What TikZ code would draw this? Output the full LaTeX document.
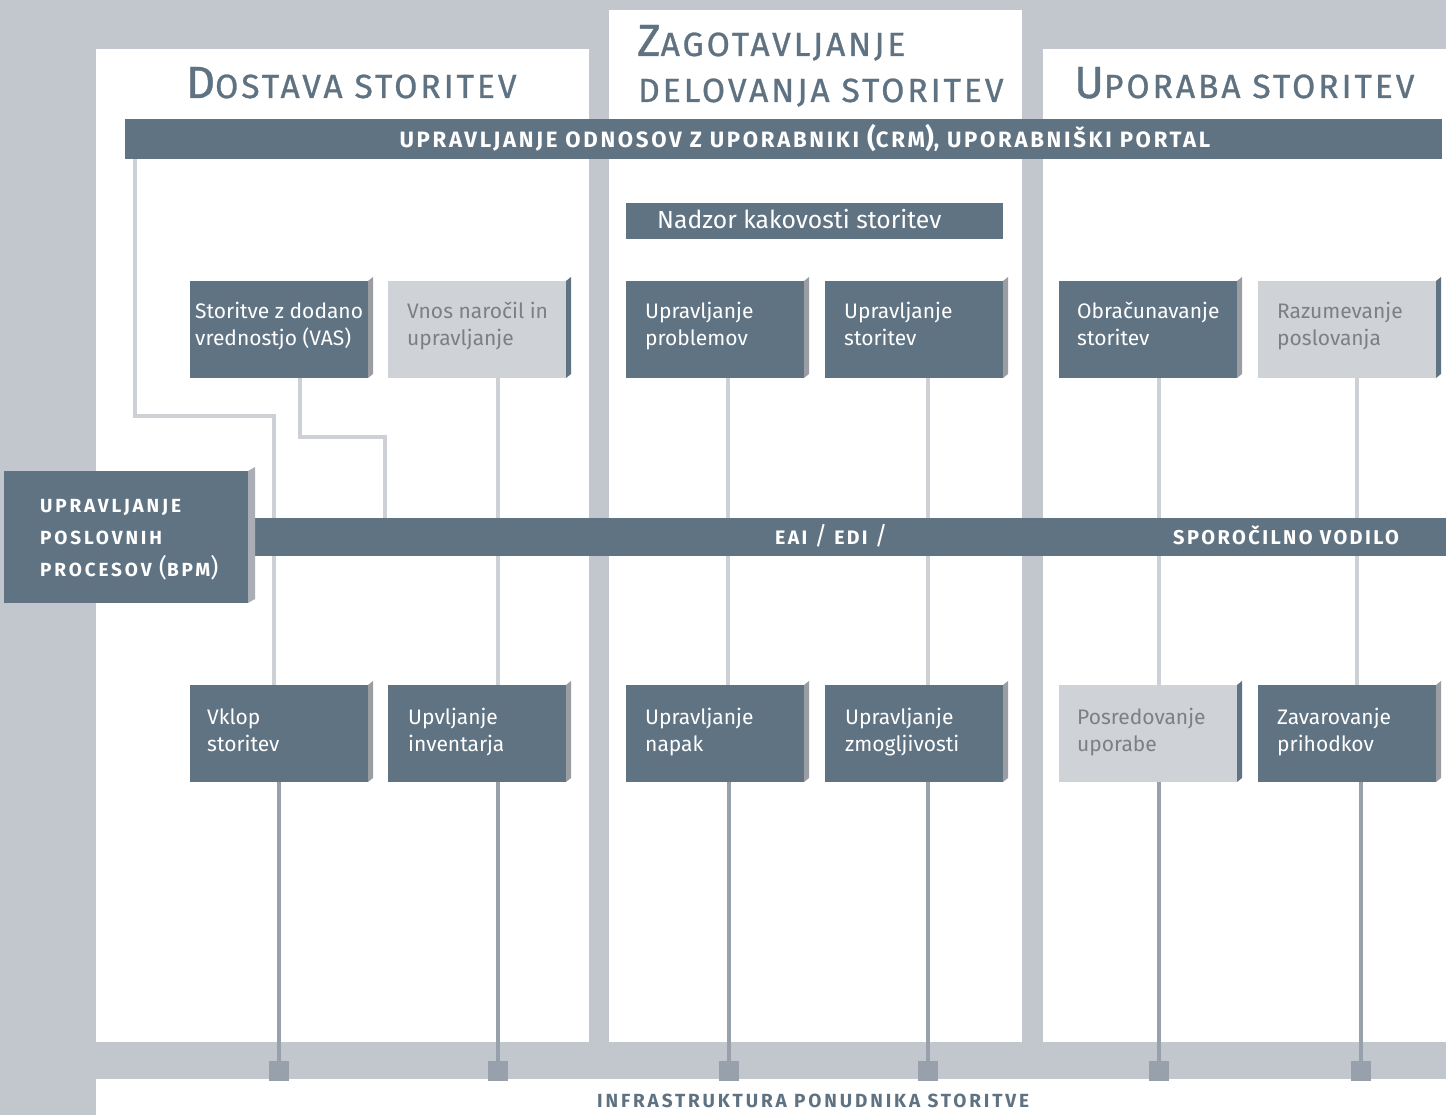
\documentclass[tikz,border=0pt]{standalone}
\usepackage{fontspec}
\setmainfont{Fira Sans}
\newfontfamily\headfont[FakeBold=0.9, LetterSpace=9]{Fira Sans}
\usetikzlibrary{calc}
\definecolor{bggray}{HTML}{C2C7CE}
\definecolor{slate}{HTML}{607383}
\definecolor{boxdk}{HTML}{607383}
\definecolor{boxlt}{HTML}{CFD2D6}
\definecolor{shdk}{HTML}{9A9DA2}
\definecolor{shlt}{HTML}{607383}
\definecolor{txtdk}{HTML}{FFFFFF}
\definecolor{txtlt}{HTML}{7C8085}
\definecolor{connlt}{HTML}{CDD0D4}
\definecolor{conndk}{HTML}{97A0AB}
\definecolor{bpmsh}{HTML}{A9AEB5}
\definecolor{headc}{HTML}{5F7282}
\tikzset{
  boxshape/.style={minimum width=178pt, minimum height=97pt, inner sep=0pt, outer sep=0pt, draw=none},
  boxtext/.style={font=\fontsize{21}{27}\selectfont, align=left, inner sep=0pt},
  conn/.style={draw=connlt, line width=4.5pt},
  lconn/.style={draw=conndk, line width=3.5pt},
  sqnode/.style={fill=conndk, minimum size=20pt, inner sep=0pt, outer sep=0pt},
  heading/.style={text=headc, inner sep=0pt, font=\headfont},
  bartext/.style={text=white, inner sep=0pt, font=\fontsize{#1}{#1}\selectfont\bfseries\addfontfeatures{LetterSpace=12}},
  bpmtext/.style={text=white, inner sep=0pt, align=left, font=\fontsize{19}{32}\selectfont\bfseries\addfontfeatures{LetterSpace=15}},
  barfill/.style={fill=slate, inner sep=0pt, outer sep=0pt}
}
\newcommand\svcbox[7]{%
  \fill[sh#4] (#2+178,#3) -- (#2+183,#3-4) -- (#2+183,#3+93) -- (#2+178,#3+97) -- cycle;
  \node[boxshape, fill=box#4, anchor=north west] (#1) at (#2,#3) {};
  \node[boxtext, text=txt#4, anchor=base west] (#1t) at (#2+#5,#3+#6) {#7};
}
\newcommand\hcap[2]{{\fontsize{45}{45}\selectfont #1}{\fontsize{33.5}{33.5}\selectfont #2}}
\newcommand\hsc[1]{{\fontsize{33.5}{33.5}\selectfont #1}}
\newcommand\bigpar[2][25]{{\fontsize{#1}{#1}\selectfont #2}}
\begin{document}
\begin{tikzpicture}[x=1pt,y=-1pt]
\useasboundingbox (0,0) rectangle (1446,1115);
% background and panels
\fill[bggray] (0,0) rectangle (1446,1115);
\fill[white] (96,49) rectangle (589,1042);
\fill[white] (609,10) rectangle (1022,1042);
\fill[white] (1043,49) rectangle (1446,1042);
\fill[white] (96,1079) rectangle (1446,1115);

% headings
\node[heading, anchor=base west] (h1) at (186,98) {\hcap{D}{OSTAVA STORITEV}};
\node[heading, anchor=base west] (h2a) at (637,56) {\hcap{Z}{AGOTAVLJANJE}};
\node[heading, anchor=base west] (h2b) at (638,102) {\hsc{DELOVANJA STORITEV}};
\node[heading, anchor=base west] (h3) at (1074,98) {\hcap{U}{PORABA STORITEV}};

% CRM bar
\node[barfill, minimum width=1317pt, minimum height=40pt, anchor=north west] (crm) at (125,119) {};
\node[bartext=22.2, anchor=base] (crmt) at (805,148) {UPRAVLJANJE ODNOSOV Z UPORABNIKI \bigpar[27]{(}CRM\bigpar[27]{)}, UPORABNIŠKI PORTAL};

% boxes
\svcbox{vas}{190}{281}{dk}{5}{64}{Storitve z dodano\\vrednostjo (VAS)}
\svcbox{vnos}{388}{281}{lt}{19}{64}{Vnos naročil in\\upravljanje}
\svcbox{prob}{626}{281}{dk}{19}{64}{Upravljanje\\problemov}
\svcbox{stor}{825}{281}{dk}{19}{64}{Upravljanje\\storitev}
\svcbox{obr}{1059}{281}{dk}{18}{64}{Obračunavanje\\storitev}
\svcbox{raz}{1258}{281}{lt}{19}{64}{Razumevanje\\poslovanja}

\svcbox{vklop}{190}{685}{dk}{17}{66}{Vklop\\storitev}
\svcbox{inv}{388}{685}{dk}{20}{66}{Upvljanje\\inventarja}
\svcbox{napak}{626}{685}{dk}{19}{66}{Upravljanje\\napak}
\svcbox{zmog}{825}{685}{dk}{20}{66}{Upravljanje\\zmogljivosti}
\svcbox{posr}{1059}{685}{lt}{18}{66}{Posredovanje\\uporabe}
\svcbox{zav}{1258}{685}{dk}{19}{66}{Zavarovanje\\prihodkov}

\coordinate (eainw) at (255,518);

% light connectors
\draw[conn] ($(crm.south west)+(10,0)$) |- ($(vklop.north west)+(84,-269)$) -- ($(vklop.north west)+(84,0)$);
\draw[conn] ($(vas.south west)+(110,0)$) |- ($(eainw)+(130,-81)$) -- ($(eainw)+(130,0)$);
\draw[conn] ($(vnos.south west)+(110,0)$) -- ($(inv.north west)+(110,0)$);
\draw[conn] ($(prob.south west)+(102,0)$) -- ($(napak.north west)+(102,0)$);
\draw[conn] ($(stor.south west)+(103,0)$) -- ($(zmog.north west)+(103,0)$);
\draw[conn] ($(obr.south west)+(100,0)$) -- ($(posr.north west)+(100,0)$);
\draw[conn] ($(raz.south west)+(99,0)$) -- ($(zav.north west)+(99,0)$);

% squares and lower connectors
\node[sqnode] (sq1) at (279,1071) {};
\node[sqnode] (sq2) at (498,1071) {};
\node[sqnode] (sq3) at (729,1071) {};
\node[sqnode] (sq4) at (928,1071) {};
\node[sqnode] (sq5) at (1159,1071) {};
\node[sqnode] (sq6) at (1361,1071) {};
\draw[lconn] ($(vklop.south west)+(89,0)$) -- (sq1.north);
\draw[lconn] ($(inv.south west)+(110,0)$) -- (sq2.north);
\draw[lconn] ($(napak.south west)+(103,0)$) -- (sq3.north);
\draw[lconn] ($(zmog.south west)+(103,0)$) -- (sq4.north);
\draw[lconn] ($(posr.south west)+(100,0)$) -- (sq5.north);
\draw[lconn] ($(zav.south west)+(103,0)$) -- (sq6.north);

% EAI bar on top
\node[barfill, minimum width=1191pt, minimum height=38pt, anchor=north west] (eai) at (eainw) {};
\node[bartext=19.5, anchor=base west] (eait) at (775,544) {EAI {\mdseries\bigpar{/}} EDI {\mdseries\bigpar{/}}};
\node[bartext=20, anchor=base west] (spt) at (1173,544) {SPOROČILNO VODILO};

% BPM box
\fill[bpmsh] (248,471) -- (255,467) -- (255,599) -- (248,603) -- cycle;
\node[barfill, minimum width=244pt, minimum height=132pt, anchor=north west] (bpm) at (4,471) {};
\node[bpmtext, anchor=base west] (bpmt) at (40,576) {UPRAVLJANJE\\POSLOVNIH\\PROCESOV {\mdseries\bigpar{(}}BPM{\mdseries\bigpar{)}}};

% Nadzor bar
\node[barfill, minimum width=377pt, minimum height=36pt, anchor=north west] (nadzor) at (626,203) {};
\node[text=white, inner sep=0pt, anchor=base west, font=\fontsize{24.7}{24.7}\selectfont] (nadzort) at (657,229) {Nadzor kakovosti storitev};

% bottom label
\node[text=headc, inner sep=0pt, anchor=base west, font=\fontsize{19}{19}\selectfont\bfseries\addfontfeatures{LetterSpace=15}] (infra) at (597,1107) {INFRASTRUKTURA PONUDNIKA STORITVE};
\end{tikzpicture}
\end{document}
